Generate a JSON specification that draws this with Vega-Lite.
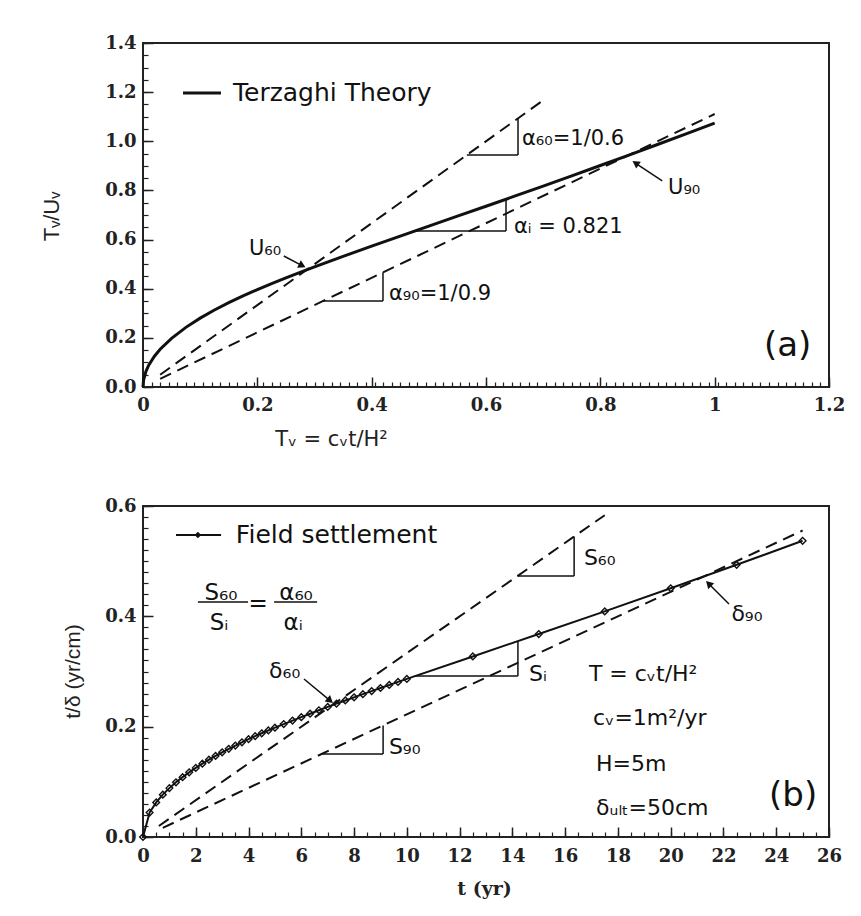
{
  "$schema": "https://vega.github.io/schema/vega-lite/v6.json",
  "background": "white",
  "padding": {"left": 39, "top": 33, "right": 5, "bottom": 5},
  "spacing": 119,
  "bounds": "flush",
  "config": {
    "view": {"stroke": "#222", "strokeWidth": 2},
    "axis": {"grid": false, "domain": false, "tickColor": "#222", "labelColor": "#222", "titleColor": "#222", "labelFlush": false, "labelOverlap": false}
  },
  "datasets": {
    "a_curve": [
      {"T": 0, "TU": 0}, {"T": 0.001, "TU": 0.028}, {"T": 0.005, "TU": 0.0627}, {"T": 0.01, "TU": 0.0886},
      {"T": 0.02, "TU": 0.1253}, {"T": 0.03, "TU": 0.1535}, {"T": 0.05, "TU": 0.1982}, {"T": 0.075, "TU": 0.2427},
      {"T": 0.1, "TU": 0.2803}, {"T": 0.125, "TU": 0.3133}, {"T": 0.15, "TU": 0.3432}, {"T": 0.175, "TU": 0.3707},
      {"T": 0.2, "TU": 0.3963}, {"T": 0.225, "TU": 0.4204}, {"T": 0.25, "TU": 0.444}, {"T": 0.2827, "TU": 0.4735},
      {"T": 0.3, "TU": 0.489}, {"T": 0.35, "TU": 0.5318}, {"T": 0.4, "TU": 0.5731}, {"T": 0.45, "TU": 0.614},
      {"T": 0.5, "TU": 0.6545}, {"T": 0.55, "TU": 0.6951}, {"T": 0.6, "TU": 0.7357}, {"T": 0.65, "TU": 0.7766},
      {"T": 0.7, "TU": 0.8178}, {"T": 0.75, "TU": 0.8595}, {"T": 0.8, "TU": 0.9015}, {"T": 0.85, "TU": 0.9439},
      {"T": 0.9, "TU": 0.9868}, {"T": 0.95, "TU": 1.03}, {"T": 1.0, "TU": 1.0738}
    ],
    "a_dash": [
      {"line": "a60", "x": 0.03, "y": 0.05}, {"line": "a60", "x": 0.7, "y": 1.1667},
      {"line": "a90", "x": 0.03, "y": 0.0333}, {"line": "a90", "x": 1.0, "y": 1.1111}
    ],
    "a_rules": [
      {"x": 0.5665, "y": 0.9442, "x2": 0.656, "y2": 0.9442}, {"x": 0.656, "y": 0.9442, "x2": 0.656, "y2": 1.0933},
      {"x": 0.4776, "y": 0.6349, "x2": 0.635, "y2": 0.6349}, {"x": 0.635, "y": 0.6349, "x2": 0.635, "y2": 0.764},
      {"x": 0.315, "y": 0.35, "x2": 0.4198, "y2": 0.35}, {"x": 0.4198, "y": 0.35, "x2": 0.4198, "y2": 0.4665},
      {"x": 0.2463, "y": 0.5331, "x2": 0.2766, "y2": 0.4958}, {"x": 0.9083, "y": 0.8384, "x2": 0.8633, "y2": 0.9084}
    ],
    "a_legend": [{"x": 0.07, "y": 1.1965, "x2": 0.1364, "y2": 1.1965}],
    "a_heads": [{"x": 0.2766, "y": 0.4958, "angle": 116.6}, {"x": 0.8633, "y": 0.9084, "angle": -56.3}],
    "a_text": [
      {"g": "label", "x": 0.663, "y": 1.0093, "text": "α₆₀=1/0.6"},
      {"g": "label", "x": 0.649, "y": 0.6512, "text": "αᵢ = 0.821"},
      {"g": "label", "x": 0.4303, "y": 0.3785, "text": "α₉₀=1/0.9"},
      {"g": "label", "x": 0.1854, "y": 0.5616, "text": "U₆₀"},
      {"g": "label", "x": 0.9184, "y": 0.8099, "text": "U₉₀"},
      {"g": "legend", "x": 0.1574, "y": 1.1965, "text": "Terzaghi Theory"},
      {"g": "big", "x": 1.0863, "y": 0.1669, "text": "(a)"}
    ],
    "b_field": [
      {"t": 0, "r": 0}, {"t": 0.25, "r": 0.0443}, {"t": 0.5, "r": 0.0627}, {"t": 0.75, "r": 0.0768},
      {"t": 1, "r": 0.0886}, {"t": 1.25, "r": 0.0991}, {"t": 1.5, "r": 0.1085}, {"t": 1.75, "r": 0.1172},
      {"t": 2, "r": 0.1253}, {"t": 2.25, "r": 0.1329}, {"t": 2.5, "r": 0.1401}, {"t": 2.75, "r": 0.147},
      {"t": 3, "r": 0.1535}, {"t": 3.25, "r": 0.1598}, {"t": 3.5, "r": 0.1658}, {"t": 3.75, "r": 0.1716},
      {"t": 4, "r": 0.1773}, {"t": 4.25, "r": 0.1827}, {"t": 4.5, "r": 0.188}, {"t": 4.75, "r": 0.1932},
      {"t": 5, "r": 0.1982}, {"t": 5.333, "r": 0.2047}, {"t": 5.667, "r": 0.211}, {"t": 6, "r": 0.2172},
      {"t": 6.333, "r": 0.2235}, {"t": 6.667, "r": 0.2298}, {"t": 7, "r": 0.2358}, {"t": 7.333, "r": 0.2417},
      {"t": 7.667, "r": 0.2475}, {"t": 8, "r": 0.2532}, {"t": 8.333, "r": 0.2589}, {"t": 8.667, "r": 0.2645},
      {"t": 9, "r": 0.2701}, {"t": 9.333, "r": 0.2756}, {"t": 9.667, "r": 0.2811}, {"t": 10, "r": 0.2866},
      {"t": 12.5, "r": 0.3273}, {"t": 15, "r": 0.3679}, {"t": 17.5, "r": 0.4089}, {"t": 20, "r": 0.4508},
      {"t": 22.5, "r": 0.4934}, {"t": 25, "r": 0.5369}
    ],
    "b_dash": [
      {"line": "s60", "x": 0.6, "y": 0.02}, {"line": "s60", "x": 17.5, "y": 0.5833},
      {"line": "s90", "x": 0.75, "y": 0.0167}, {"line": "s90", "x": 25, "y": 0.5556}
    ],
    "b_rules": [
      {"x": 14.2, "y": 0.4731, "x2": 16.34, "y2": 0.4731}, {"x": 16.34, "y": 0.4731, "x2": 16.34, "y2": 0.5447},
      {"x": 10.3, "y": 0.2918, "x2": 14.21, "y2": 0.2918}, {"x": 14.21, "y": 0.2918, "x2": 14.21, "y2": 0.354},
      {"x": 6.77, "y": 0.1505, "x2": 9.1, "y2": 0.1505}, {"x": 9.1, "y": 0.1505, "x2": 9.1, "y2": 0.2022},
      {"x": 6.102, "y": 0.2864, "x2": 7.057, "y2": 0.2487}, {"x": 22.21, "y": 0.4224, "x2": 21.47, "y2": 0.4577},
      {"x": 2.08, "y": 0.426, "x2": 3.98, "y2": 0.426}, {"x": 4.97, "y": 0.426, "x2": 6.6, "y2": 0.426}
    ],
    "b_legend": [{"x": 1.25, "y": 0.5474, "x2": 2.96, "y2": 0.5474}],
    "b_legend_pt": [{"x": 2.08, "y": 0.5474}],
    "b_heads": [{"x": 7.057, "y": 0.2487, "angle": 129.6}, {"x": 21.47, "y": 0.4577, "angle": -45}],
    "b_text": [
      {"g": "label", "x": 16.71, "y": 0.5057, "text": "S₆₀"},
      {"g": "label", "x": 14.63, "y": 0.2955, "text": "Sᵢ"},
      {"g": "label", "x": 9.32, "y": 0.1631, "text": "S₉₀"},
      {"g": "label", "x": 4.78, "y": 0.3009, "text": "δ₆₀"},
      {"g": "label", "x": 22.3, "y": 0.4042, "text": "δ₉₀"},
      {"g": "info", "x": 16.9, "y": 0.2955, "text": "T = cᵥt/H²"},
      {"g": "info", "x": 17.06, "y": 0.2157, "text": "cᵥ=1m²/yr"},
      {"g": "info", "x": 17.17, "y": 0.1323, "text": "H=5m"},
      {"g": "info", "x": 17.17, "y": 0.0526, "text": "δᵤₗₜ=50cm"},
      {"g": "frac", "x": 2.956, "y": 0.4423, "text": "S₆₀"},
      {"g": "frac", "x": 2.88, "y": 0.3879, "text": "Sᵢ"},
      {"g": "frac", "x": 4.36, "y": 0.4224, "text": "="},
      {"g": "frac", "x": 5.8, "y": 0.4423, "text": "α₆₀"},
      {"g": "frac", "x": 5.69, "y": 0.3879, "text": "αᵢ"},
      {"g": "legend", "x": 3.52, "y": 0.5474, "text": "Field settlement"},
      {"g": "big", "x": 23.73, "y": 0.0743, "text": "(b)"}
    ]
  },
  "vconcat": [
    {
      "width": 686,
      "height": 344,
      "resolve": {"axis": {"x": "independent", "y": "independent"}},
      "layer": [
        {
          "data": {"name": "a_curve"},
          "mark": {"type": "line", "color": "#111", "strokeWidth": 3},
          "encoding": {
            "x": {"field": "T", "type": "quantitative", "scale": {"domain": [0, 1.2], "nice": false, "zero": false},
              "axis": {"orient": "bottom", "values": [0, 0.2, 0.4, 0.6, 0.8, 1, 1.2],
                "labelExpr": "datum.value == 0 || datum.value == 1 ? format(datum.value, 'd') : format(datum.value, '.1f')",
                "tickSize": -10, "tickWidth": 1.5, "labelPadding": 19,
                "labelFont": "DejaVu Serif", "labelFontWeight": "bold", "labelFontSize": 18,
                "title": "Tᵥ = cᵥt/H²", "titleFont": "DejaVu Sans", "titleFontWeight": "normal", "titleFontSize": 21,
                "titleX": 188, "titleY": 52, "titleBaseline": "middle", "titleAlign": "center"}},
            "y": {"field": "TU", "type": "quantitative", "scale": {"domain": [0, 1.4], "nice": false, "zero": false},
              "axis": {"orient": "left", "values": [0, 0.2, 0.4, 0.6, 0.8, 1.0, 1.2, 1.4], "format": ".1f",
                "tickSize": -10, "tickWidth": 1.5, "labelPadding": 17,
                "labelFont": "DejaVu Serif", "labelFontWeight": "bold", "labelFontSize": 18,
                "title": "Tᵥ/Uᵥ", "titleFont": "Liberation Sans", "titleFontWeight": "normal", "titleFontSize": 22,
                "titleX": -92, "titleY": 173, "titleAngle": -90, "titleBaseline": "middle", "titleAlign": "center"}}
          }
        },
        {
          "data": {"name": "a_dash"},
          "mark": {"type": "line", "color": "#111", "strokeWidth": 2, "strokeDash": [12, 7]},
          "encoding": {
            "x": {"field": "x", "type": "quantitative",
              "axis": {"orient": "bottom", "labels": false, "title": null, "tickSize": -5, "tickWidth": 1.2,
                "values": [0,0.015,0.03,0.045,0.06,0.075,0.09,0.105,0.12,0.135,0.15,0.165,0.18,0.195,0.21,0.225,0.24,0.255,0.27,0.285,0.3,0.315,0.33,0.345,0.36,0.375,0.39,0.405,0.42,0.435,0.45,0.465,0.48,0.495,0.51,0.525,0.54,0.555,0.57,0.585,0.6,0.615,0.63,0.645,0.66,0.675,0.69,0.705,0.72,0.735,0.75,0.765,0.78,0.795,0.81,0.825,0.84,0.855,0.87,0.885,0.9,0.915,0.93,0.945,0.96,0.975,0.99,1.005,1.02,1.035,1.05,1.065,1.08,1.095,1.11,1.125,1.14,1.155,1.17,1.185,1.2]}},
            "y": {"field": "y", "type": "quantitative",
              "axis": {"orient": "left", "labels": false, "title": null, "tickSize": -5, "tickWidth": 1.2, "tickCount": 28}},
            "detail": {"field": "line", "type": "nominal"}
          }
        },
        {
          "data": {"name": "a_rules"},
          "mark": {"type": "rule", "color": "#111", "strokeWidth": 1.5},
          "encoding": {
            "x": {"field": "x", "type": "quantitative", "axis": null},
            "y": {"field": "y", "type": "quantitative", "axis": null},
            "x2": {"field": "x2"},
            "y2": {"field": "y2"}
          }
        },
        {
          "data": {"name": "a_legend"},
          "mark": {"type": "rule", "color": "#111", "strokeWidth": 3},
          "encoding": {
            "x": {"field": "x", "type": "quantitative", "axis": null},
            "y": {"field": "y", "type": "quantitative", "axis": null},
            "x2": {"field": "x2"},
            "y2": {"field": "y2"}
          }
        },
        {
          "data": {"name": "a_heads"},
          "mark": {"type": "point", "shape": "triangle", "filled": true, "color": "#111", "size": 70, "opacity": 1},
          "encoding": {
            "x": {"field": "x", "type": "quantitative", "axis": null},
            "y": {"field": "y", "type": "quantitative", "axis": null},
            "angle": {"field": "angle", "type": "quantitative", "scale": null}
          }
        },
        {
          "data": {"name": "a_text"},
          "transform": [{"filter": "datum.g == 'label'"}],
          "mark": {"type": "text", "font": "DejaVu Sans", "fontSize": 21, "align": "left", "baseline": "middle", "color": "#111"},
          "encoding": {
            "x": {"field": "x", "type": "quantitative", "axis": null},
            "y": {"field": "y", "type": "quantitative", "axis": null},
            "text": {"field": "text"}
          }
        },
        {
          "data": {"name": "a_text"},
          "transform": [{"filter": "datum.g == 'legend'"}],
          "mark": {"type": "text", "font": "DejaVu Sans", "fontSize": 25, "align": "left", "baseline": "middle", "color": "#111"},
          "encoding": {
            "x": {"field": "x", "type": "quantitative", "axis": null},
            "y": {"field": "y", "type": "quantitative", "axis": null},
            "text": {"field": "text"}
          }
        },
        {
          "data": {"name": "a_text"},
          "transform": [{"filter": "datum.g == 'big'"}],
          "mark": {"type": "text", "font": "DejaVu Sans", "fontSize": 34, "align": "left", "baseline": "middle", "color": "#111"},
          "encoding": {
            "x": {"field": "x", "type": "quantitative", "axis": null},
            "y": {"field": "y", "type": "quantitative", "axis": null},
            "text": {"field": "text"}
          }
        }
      ]
    },
    {
      "width": 686,
      "height": 331,
      "resolve": {"axis": {"x": "independent", "y": "independent"}},
      "layer": [
        {
          "data": {"name": "b_field"},
          "mark": {"type": "line", "color": "#111", "strokeWidth": 2},
          "encoding": {
            "x": {"field": "t", "type": "quantitative", "scale": {"domain": [0, 26], "nice": false, "zero": false},
              "axis": {"orient": "bottom", "values": [0, 2, 4, 6, 8, 10, 12, 14, 16, 18, 20, 22, 24, 26], "format": "d",
                "tickSize": -10, "tickWidth": 1.5, "labelPadding": 20,
                "labelFont": "DejaVu Serif", "labelFontWeight": "bold", "labelFontSize": 18,
                "title": "t (yr)", "titleFont": "DejaVu Serif", "titleFontWeight": "bold", "titleFontSize": 19,
                "titleX": 341, "titleY": 51, "titleBaseline": "middle", "titleAlign": "center"}},
            "y": {"field": "r", "type": "quantitative", "scale": {"domain": [0, 0.6], "nice": false, "zero": false},
              "axis": {"orient": "left", "values": [0, 0.2, 0.4, 0.6], "format": ".1f",
                "tickSize": -10, "tickWidth": 1.5, "labelPadding": 17,
                "labelFont": "DejaVu Serif", "labelFontWeight": "bold", "labelFontSize": 18,
                "title": "t/δ (yr/cm)", "titleFont": "Liberation Sans", "titleFontWeight": "normal", "titleFontSize": 21,
                "titleX": -70, "titleY": 165, "titleAngle": -90, "titleBaseline": "middle", "titleAlign": "center"}}
          }
        },
        {
          "data": {"name": "b_field"},
          "mark": {"type": "point", "shape": "diamond", "filled": false, "color": "#111", "strokeWidth": 1.4, "size": 45, "opacity": 1},
          "encoding": {
            "x": {"field": "t", "type": "quantitative", "axis": null},
            "y": {"field": "r", "type": "quantitative", "axis": null}
          }
        },
        {
          "data": {"name": "b_dash"},
          "mark": {"type": "line", "color": "#111", "strokeWidth": 2, "strokeDash": [12, 7]},
          "encoding": {
            "x": {"field": "x", "type": "quantitative",
              "axis": {"orient": "bottom", "labels": false, "title": null, "tickSize": -5, "tickWidth": 1.2, "tickCount": 52}},
            "y": {"field": "y", "type": "quantitative",
              "axis": {"orient": "left", "labels": false, "title": null, "tickSize": -5, "tickWidth": 1.2, "tickCount": 30}},
            "detail": {"field": "line", "type": "nominal"}
          }
        },
        {
          "data": {"name": "b_rules"},
          "mark": {"type": "rule", "color": "#111", "strokeWidth": 1.5},
          "encoding": {
            "x": {"field": "x", "type": "quantitative", "axis": null},
            "y": {"field": "y", "type": "quantitative", "axis": null},
            "x2": {"field": "x2"},
            "y2": {"field": "y2"}
          }
        },
        {
          "data": {"name": "b_legend"},
          "mark": {"type": "rule", "color": "#111", "strokeWidth": 2},
          "encoding": {
            "x": {"field": "x", "type": "quantitative", "axis": null},
            "y": {"field": "y", "type": "quantitative", "axis": null},
            "x2": {"field": "x2"},
            "y2": {"field": "y2"}
          }
        },
        {
          "data": {"name": "b_legend_pt"},
          "mark": {"type": "point", "shape": "diamond", "filled": true, "color": "#111", "size": 45, "opacity": 1},
          "encoding": {
            "x": {"field": "x", "type": "quantitative", "axis": null},
            "y": {"field": "y", "type": "quantitative", "axis": null}
          }
        },
        {
          "data": {"name": "b_heads"},
          "mark": {"type": "point", "shape": "triangle", "filled": true, "color": "#111", "size": 70, "opacity": 1},
          "encoding": {
            "x": {"field": "x", "type": "quantitative", "axis": null},
            "y": {"field": "y", "type": "quantitative", "axis": null},
            "angle": {"field": "angle", "type": "quantitative", "scale": null}
          }
        },
        {
          "data": {"name": "b_text"},
          "transform": [{"filter": "datum.g == 'label'"}],
          "mark": {"type": "text", "font": "DejaVu Sans", "fontSize": 22, "align": "left", "baseline": "middle", "color": "#111"},
          "encoding": {
            "x": {"field": "x", "type": "quantitative", "axis": null},
            "y": {"field": "y", "type": "quantitative", "axis": null},
            "text": {"field": "text"}
          }
        },
        {
          "data": {"name": "b_text"},
          "transform": [{"filter": "datum.g == 'info'"}],
          "mark": {"type": "text", "font": "DejaVu Sans", "fontSize": 22, "align": "left", "baseline": "middle", "color": "#111"},
          "encoding": {
            "x": {"field": "x", "type": "quantitative", "axis": null},
            "y": {"field": "y", "type": "quantitative", "axis": null},
            "text": {"field": "text"}
          }
        },
        {
          "data": {"name": "b_text"},
          "transform": [{"filter": "datum.g == 'frac'"}],
          "mark": {"type": "text", "font": "DejaVu Sans", "fontSize": 23, "align": "center", "baseline": "middle", "color": "#111"},
          "encoding": {
            "x": {"field": "x", "type": "quantitative", "axis": null},
            "y": {"field": "y", "type": "quantitative", "axis": null},
            "text": {"field": "text"}
          }
        },
        {
          "data": {"name": "b_text"},
          "transform": [{"filter": "datum.g == 'legend'"}],
          "mark": {"type": "text", "font": "DejaVu Sans", "fontSize": 25, "align": "left", "baseline": "middle", "color": "#111"},
          "encoding": {
            "x": {"field": "x", "type": "quantitative", "axis": null},
            "y": {"field": "y", "type": "quantitative", "axis": null},
            "text": {"field": "text"}
          }
        },
        {
          "data": {"name": "b_text"},
          "transform": [{"filter": "datum.g == 'big'"}],
          "mark": {"type": "text", "font": "DejaVu Sans", "fontSize": 34, "align": "left", "baseline": "middle", "color": "#111"},
          "encoding": {
            "x": {"field": "x", "type": "quantitative", "axis": null},
            "y": {"field": "y", "type": "quantitative", "axis": null},
            "text": {"field": "text"}
          }
        }
      ]
    }
  ]
}
